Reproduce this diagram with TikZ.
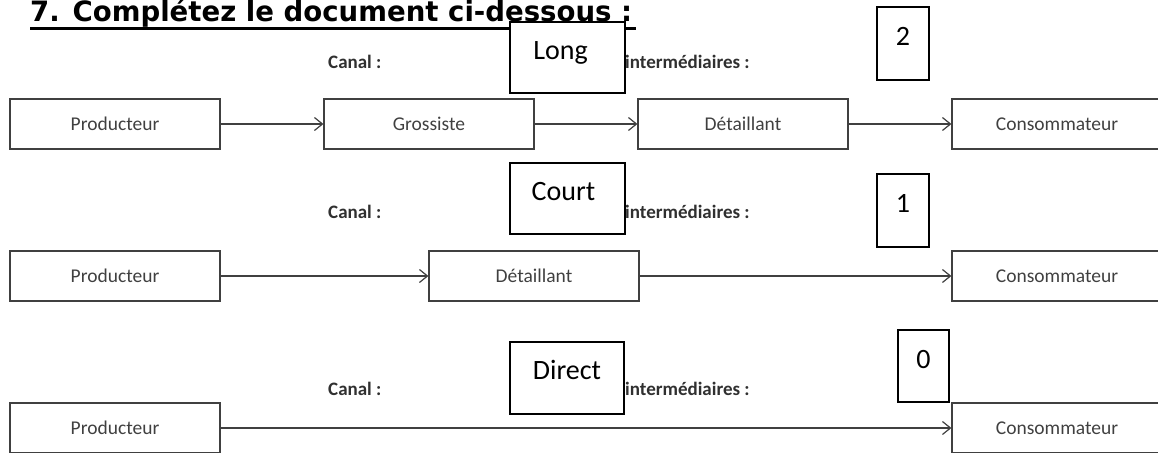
\documentclass[tikz,border=0pt]{standalone}
\usepackage{fontspec}
\usepackage{graphicx}
\setmainfont{Carlito}
\newfontfamily\titlefont{DejaVu Sans}
\usetikzlibrary{arrows.meta}
\definecolor{ink}{HTML}{404040}
\definecolor{lab}{HTML}{303030}
\begin{document}
\begin{tikzpicture}[x=1pt,y=-1pt,
  flow/.style={draw=ink, line width=1.2pt, minimum width=210pt, minimum height=50pt, inner sep=0pt, font=\fontsize{19.5}{22}\selectfont, text=ink},
  ans/.style={draw=black, line width=1.6pt, fill=white, inner sep=0pt, font=\fontsize{28}{30}\selectfont, anchor=north},
  lbl/.style={font=\bfseries\fontsize{19}{22}\selectfont, text=lab, anchor=base west, inner sep=0pt},
  arr/.style={draw=ink, line width=1.2pt, -{Straight Barb[length=8pt,width=13pt,line width=1.2pt]}}]
\useasboundingbox (0,0) rectangle (1158,452);
\clip (0,0) rectangle (1158,452);
% title
\node[anchor=base west, inner sep=0pt, font=\titlefont\bfseries\fontsize{28}{32}\selectfont] (title) at (30,22) {\resizebox{602pt}{\height}{7. Complétez le document ci-dessous :}};
\draw[line width=2.6pt] (30,28.5) -- (636,28.5);
% row 1
\node[flow] (p1) at (115,124) {Producteur};
\node[flow] (g1) at (429,124) {Grossiste};
\node[flow] (d1) at (743,124) {Détaillant};
\node[flow] (c1) at (1057,124) {Consommateur};
\draw[arr] (p1.east) -- (g1.west);
\draw[arr] (g1.east) -- (d1.west);
\draw[arr] (d1.east) -- (c1.west);
\node[lbl] (canal1) at (328,68) {Canal :};
\node[lbl] (inter1) at (625,68) {intermédiaires :};
\node[ans, minimum width=115pt, text height=38pt, text depth=33pt] (long) at (567.5,21) {\hspace*{-14pt}Long};
\node[ans, minimum width=52pt, text height=39pt, text depth=34pt] (n2) at (903,6) {2};
% row 2
\node[flow] (p2) at (115,276) {Producteur};
\node[flow] (d2) at (534,276) {Détaillant};
\node[flow] (c2) at (1057,276) {Consommateur};
\draw[arr] (p2.east) -- (d2.west);
\draw[arr] (d2.east) -- (c2.west);
\node[lbl] (canal2) at (328,218) {Canal :};
\node[lbl] (inter2) at (625,218) {intermédiaires :};
\node[ans, minimum width=115pt, text height=38pt, text depth=33pt] (court) at (567.5,162) {\hspace*{-8pt}Court};
\node[ans, minimum width=52pt, text height=39pt, text depth=34pt] (n1) at (903,173) {1};
% row 3
\node[flow] (p3) at (115,428) {Producteur};
\node[flow] (c3) at (1057,428) {Consommateur};
\draw[arr] (p3.east) -- (c3.west);
\node[lbl] (canal3) at (328,395) {Canal :};
\node[lbl] (inter3) at (625,395) {intermédiaires :};
\node[ans, minimum width=114pt, text height=38pt, text depth=34pt] (direct) at (567,341) {Direct};
\node[ans, minimum width=51pt, text height=39pt, text depth=33pt] (n0) at (923.5,329) {0};
\end{tikzpicture}
\end{document}
